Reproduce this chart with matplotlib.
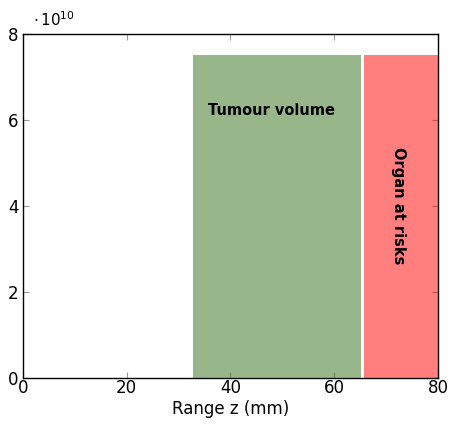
import matplotlib
matplotlib.use('Agg')
import matplotlib.pyplot as plt
from matplotlib.ticker import FuncFormatter

plt.rcParams['font.family'] = ['DejaVu Sans']
plt.rcParams['mathtext.fontset'] = 'dejavusans'

# regions along z (mm) and their dose level
region_names = ['Tumour volume', 'Organ at risks']
region_start = [32.8, 65.8]
region_end = [65.1, 80.0]
region_height = [7.5e10, 7.5e10]
region_colors = [(49 / 255, 111 / 255, 23 / 255), (1.0, 0.0, 0.0)]

x_ticks = [0, 20, 40, 60, 80]
y_ticks = [0, 2e10, 4e10, 6e10, 8e10]

fig = plt.figure(figsize=(4.49, 4.25), dpi=100)
ax = fig.add_axes([0.0512, 0.1106, 0.9243, 0.8094])

for x0, x1, h, c in zip(region_start, region_end, region_height, region_colors):
    ax.bar(x0, h, width=x1 - x0, align='edge', color=c, alpha=0.5,
           linewidth=0, zorder=3, clip_on=False)

ax.text(48.0, 6.23e10, region_names[0], ha='center', va='center',
        fontsize=10.5, fontweight='bold', zorder=4)
ax.text(72.3, 4.0e10, region_names[1], ha='center', va='center',
        fontsize=10.5, fontweight='bold', rotation=-90, zorder=4)

ax.set_xlim(0, 80)
ax.set_ylim(0, 8e10)
ax.set_xticks(x_ticks)
ax.set_yticks(y_ticks)
ax.yaxis.set_major_formatter(FuncFormatter(lambda v, p: f'{v / 1e10:g}'))
ax.tick_params(direction='in', length=4, color='#999999', labelsize=12,
               top=True, right=True, pad=3)
ax.tick_params(axis='x', pad=1)
for s in ax.spines.values():
    s.set_linewidth(1.0)
    s.set_zorder(2)

ax.set_xlabel('Range z (mm)', fontsize=12, labelpad=2)
ax.text(0.025, 1.015, r'$\cdot\,10^{10}$', transform=ax.transAxes,
        fontsize=11, ha='left', va='bottom')

fig.savefig('out.png', dpi=100, facecolor='white')
